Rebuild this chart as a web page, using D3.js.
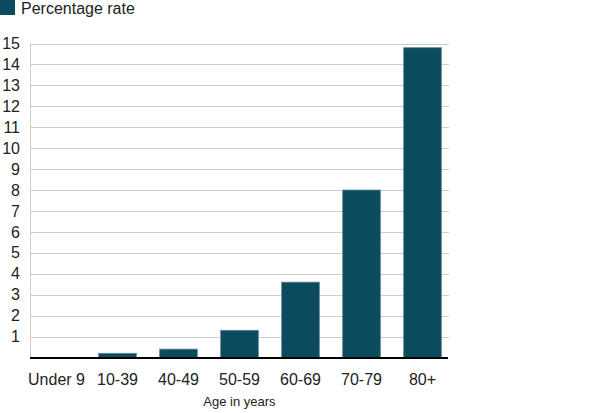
<!DOCTYPE html>
<html><head><meta charset="utf-8">
<script src="https://cdn.jsdelivr.net/npm/d3@7"></script>
<style>body{margin:0;background:#fff}svg{display:block;font-family:Arial,"Liberation Sans",sans-serif}</style>
</head><body>
<svg id="c" width="592" height="413"></svg>
<script>
const categories = ["Under 9","10-39","40-49","50-59","60-69","70-79","80+"];
const values = [0,0.2,0.4,1.3,3.6,8.0,14.8];
const yTicks = [1,2,3,4,5,6,7,8,9,10,11,12,13,14,15];
const seriesName = "Percentage rate";
const xTitle = "Age in years";

const svg = d3.select("#c");
const color = "#0c4b5e";
const x = d3.scaleBand().domain(categories).range([26,453]).paddingInner(0.382).paddingOuter(0.191);
const y = d3.scaleLinear().domain([0,15]).range([357.5,43.5]);

// legend
svg.append("rect").attr("x",0).attr("y",0).attr("width",15).attr("height",15).attr("fill",color);
svg.append("text").attr("x",21).attr("y",14).attr("font-size",16).attr("fill","#222").text(seriesName);

// gridlines
svg.append("g").selectAll("line").data(yTicks).join("line")
  .attr("x1",30).attr("x2",449).attr("y1",d=>Math.round(y(d))+0.5).attr("y2",d=>Math.round(y(d))+0.5)
  .attr("stroke","#cccccc").attr("stroke-width",1);
// y axis line
svg.append("line").attr("x1",30.5).attr("x2",30.5).attr("y1",y(15)).attr("y2",y(0)).attr("stroke","#cccccc");

// y labels
svg.append("g").selectAll("text").data(yTicks).join("text")
  .attr("x",20).attr("y",d=>y(d)).attr("dy","0.35em").attr("text-anchor","end")
  .attr("font-size",16).attr("fill","#222").text(d=>d);

// bars
svg.append("g").selectAll("rect").data(values).join("rect")
  .attr("x",(d,i)=>x(categories[i])).attr("width",x.bandwidth())
  .attr("y",d=>y(d)).attr("height",d=>y(0)-y(d))
  .attr("fill",color).attr("stroke","#5d8996").attr("stroke-width",0.8);

// baseline
svg.append("line").attr("x1",30).attr("x2",448).attr("y1",358).attr("y2",358).attr("stroke","#000").attr("stroke-width",2);

// x labels
svg.append("g").selectAll("text").data(categories).join("text")
  .attr("x",d=>x(d)+x.bandwidth()/2).attr("y",385).attr("text-anchor","middle")
  .attr("font-size",16).attr("fill","#222").text(d=>d);

svg.append("text").attr("x",(x.range()[0]+x.range()[1])/2).attr("y",406).attr("text-anchor","middle")
  .attr("font-size",13).attr("fill","#222").text(xTitle);
</script>
</body></html>
